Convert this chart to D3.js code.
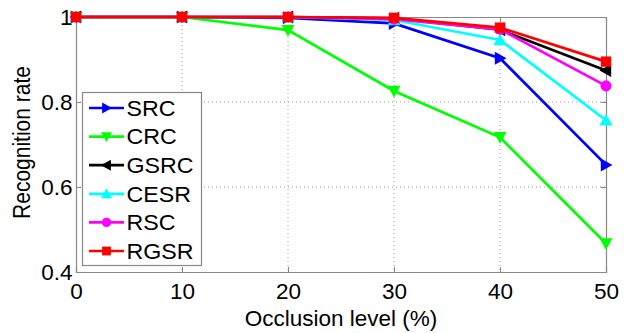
<!DOCTYPE html>
<html>
<head>
<meta charset="utf-8">
<script src="https://cdn.jsdelivr.net/npm/d3@7"></script>
<style>
  html, body { margin: 0; padding: 0; background: #fff; }
  svg { display: block; }
  text { font-family: "Liberation Sans", Arial, Helvetica, sans-serif; fill: #000; }
</style>
</head>
<body>
<svg id="chart" width="627" height="333"></svg>
<script>
// Occlusion levels (%) on the x axis
const occlusion = [0, 10, 20, 30, 40, 50];

// Recognition rate for each method
const methods = ["SRC", "CRC", "GSRC", "CESR", "RSC", "RGSR"];
const srcRate  = [1.0, 1.0, 0.998, 0.985, 0.903, 0.652];
const crcRate  = [1.0, 1.0, 0.969, 0.826, 0.717, 0.467];
const gsrcRate = [1.0, 1.0, 1.0, 0.997, 0.970, 0.874];
const cesrRate = [1.0, 1.0, 1.0, 0.993, 0.946, 0.757];
const rscRate  = [1.0, 1.0, 1.0, 0.995, 0.971, 0.838];
const rgsrRate = [1.0, 1.0, 1.0, 0.998, 0.975, 0.895];

const xTicks = [0, 10, 20, 30, 40, 50];
const yTicks = [0.4, 0.6, 0.8, 1];

const series = [
  { name: methods[0], values: srcRate,  color: "#0000ff", marker: "right" },
  { name: methods[1], values: crcRate,  color: "#00ff00", marker: "down" },
  { name: methods[2], values: gsrcRate, color: "#000000", marker: "left" },
  { name: methods[3], values: cesrRate, color: "#00ffff", marker: "up" },
  { name: methods[4], values: rscRate,  color: "#ff00ff", marker: "circle" },
  { name: methods[5], values: rgsrRate, color: "#ff0000", marker: "square" }
];

const svg = d3.select("#chart");
const plotL = 76, plotR = 606, plotT = 17, plotB = 272;
const fontSize = 22.5;

const x = d3.scaleLinear().domain([0, 50]).range([plotL, plotR]);
const y = d3.scaleLinear().domain([0.4, 1]).range([plotB, plotT]);

// dotted grid
const grid = svg.append("g");
grid.selectAll("line.gx").data(xTicks.slice(1, -1)).join("line")
  .attr("x1", d => x(d)).attr("x2", d => x(d))
  .attr("y1", plotT).attr("y2", plotB)
  .attr("stroke", "#999").attr("stroke-width", 1).attr("stroke-dasharray", "1,3");
grid.selectAll("line.gy").data(yTicks.slice(1, -1)).join("line")
  .attr("y1", d => y(d)).attr("y2", d => y(d))
  .attr("x1", plotL).attr("x2", plotR)
  .attr("stroke", "#999").attr("stroke-width", 1).attr("stroke-dasharray", "1,3");

// axes with inward ticks
const axisColor = "#888";
const xAxis = svg.append("g").attr("transform", `translate(0,${plotB})`)
  .call(d3.axisBottom(x).tickValues(xTicks).tickSize(-5).tickFormat(d3.format("d")));
const yAxis = svg.append("g").attr("transform", `translate(${plotL},0)`)
  .call(d3.axisLeft(y).tickValues(yTicks).tickSize(-5).tickPadding(3.5).tickFormat(d => d === 1 ? "1" : d3.format(".1f")(d)));
svg.append("g").attr("transform", `translate(0,${plotT})`)
  .call(d3.axisTop(x).tickValues(xTicks).tickSize(-5).tickFormat(""));
svg.append("g").attr("transform", `translate(${plotR},0)`)
  .call(d3.axisRight(y).tickValues(yTicks).tickSize(-5).tickFormat(""));

svg.selectAll(".domain").attr("stroke", axisColor).attr("stroke-width", 1.2);
svg.selectAll(".tick line").attr("stroke", axisColor);
svg.selectAll(".tick text").attr("font-size", fontSize).attr("font-family", "Liberation Sans, Arial, sans-serif").attr("fill", "#000");
xAxis.selectAll(".tick text").attr("y", 27).attr("dy", null);

// axis titles
svg.append("text").attr("x", (plotL + plotR) / 2).attr("y", 326)
  .attr("text-anchor", "middle").attr("font-size", 22.5).text("Occlusion level (%)");
svg.append("text").attr("transform", `translate(30,${(plotT + plotB) / 2 - 2}) scale(1.1,1) rotate(-90)`)
  .attr("text-anchor", "middle").attr("font-size", 21).text("Recognition rate");

// marker drawing
function drawMarker(g, type, color, s) {
  if (type === "circle") {
    g.append("circle").attr("r", s * 0.85).attr("fill", color);
  } else if (type === "square") {
    g.append("rect").attr("x", -s * 0.8).attr("y", -s * 0.8).attr("width", s * 1.6).attr("height", s * 1.6).attr("fill", color);
  } else {
    const pts = {
      up:    [[0, -s], [s, s * 0.8], [-s, s * 0.8]],
      down:  [[0, s], [s, -s * 0.8], [-s, -s * 0.8]],
      right: [[s, 0], [-s * 0.8, -s], [-s * 0.8, s]],
      left:  [[-s, 0], [s * 0.8, -s], [s * 0.8, s]]
    }[type];
    g.append("path").attr("d", "M" + pts.map(p => p.join(",")).join("L") + "Z").attr("fill", color);
  }
}

const line = d3.line().x((d, i) => x(occlusion[i])).y(d => y(d));
const plot = svg.append("g");
series.forEach(s => {
  plot.append("path").datum(s.values).attr("d", line)
    .attr("fill", "none").attr("stroke", s.color).attr("stroke-width", 2.7);
  s.values.forEach((v, i) => {
    const g = plot.append("g").attr("transform", `translate(${x(occlusion[i])},${y(v)})`);
    drawMarker(g, s.marker, s.color, 6.5);
  });
});

// legend
const lg = svg.append("g");
lg.append("rect").attr("x", 82.5).attr("y", 92.5).attr("width", 119).attr("height", 173)
  .attr("fill", "#fff").attr("stroke", axisColor).attr("stroke-width", 1.2);
series.forEach((s, i) => {
  const cy = 108 + i * 28.6;
  lg.append("line").attr("x1", 89).attr("x2", 124).attr("y1", cy).attr("y2", cy)
    .attr("stroke", s.color).attr("stroke-width", 2.7);
  const g = lg.append("g").attr("transform", `translate(106.5,${cy})`);
  drawMarker(g, s.marker, s.color, 5.5);
  lg.append("text").attr("transform", `translate(126.5,${cy}) scale(1.08,1)`)
    .attr("dy", "0.36em").attr("font-size", 21.5).text(s.name);
});
</script>
</body>
</html>
